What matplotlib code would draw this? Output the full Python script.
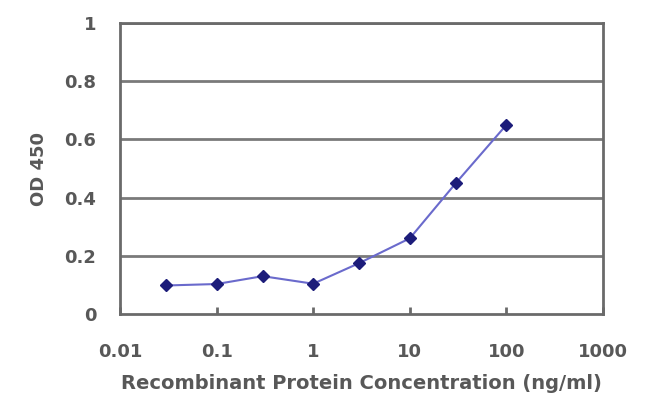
import matplotlib
matplotlib.use("Agg")
import matplotlib.pyplot as plt

conc = [0.03, 0.1, 0.3, 1, 3, 10, 30, 100]
od = [0.098, 0.103, 0.13, 0.104, 0.175, 0.26, 0.45, 0.65]
xticks = [0.01, 0.1, 1, 10, 100, 1000]
xtick_labels = ["0.01", "0.1", "1", "10", "100", "1000"]
yticks = [0, 0.2, 0.4, 0.6, 0.8, 1]
ytick_labels = ["0", "0.2", "0.4", "0.6", "0.8", "1"]

plt.rcParams['font.family'] = ['DejaVu Sans']
fig = plt.figure(figsize=(6.5, 4.2), dpi=100)
ax = fig.add_axes([120/650, 1-314/420, 483/650, 291/420])

ax.set_xscale('log')
ax.set_xlim(0.01, 1000)
ax.set_ylim(0, 1)

for y in yticks[1:]:
    ax.axhline(y, color='#7a7a7a', lw=2.0, zorder=1)

ax.plot(conc, od, color='#6a6acc', lw=1.5, zorder=2)
ax.plot(conc, od, linestyle='none', marker='D', ms=6, color='#1c1c7a', zorder=3)

for s in ax.spines.values():
    s.set_color('#6a6a6a')
    s.set_linewidth(2.0)

txt = dict(fontsize=13, color='#585858', fontweight='bold')
ax.set_xticks(xticks)
ax.set_xticklabels(xtick_labels, **txt)
ax.minorticks_off()
ax.set_yticks(yticks)
ax.set_yticklabels(ytick_labels, **txt)
ax.tick_params(axis='x', direction='in', length=5, width=2, color='#6a6a6a', pad=21)
ax.tick_params(axis='y', length=0, pad=17)

ax.set_xlabel('Recombinant Protein Concentration (ng/ml)', labelpad=9,
              fontsize=14, color='#585858', fontweight='bold')
ax.set_ylabel('OD 450', labelpad=12, **txt)

fig.savefig('out.png', dpi=100)
